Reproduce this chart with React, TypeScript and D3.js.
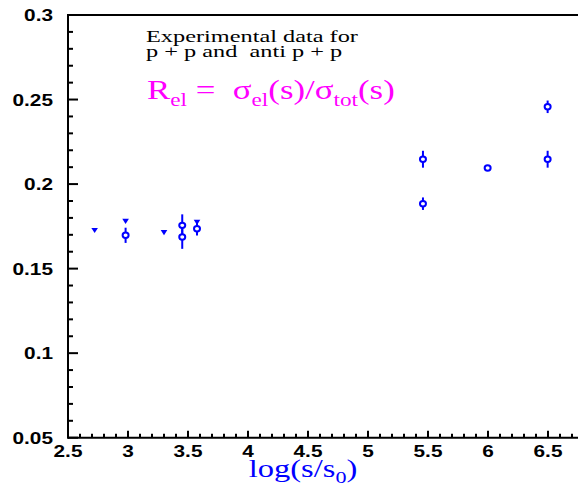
import React from "react";
import * as d3 from "d3";

const xTicks = [2.5, 3, 3.5, 4, 4.5, 5, 5.5, 6, 6.5];
const xTickLabels = ["2.5", "3", "3.5", "4", "4.5", "5", "5.5", "6", "6.5"];
const yTicks = [0.05, 0.1, 0.15, 0.2, 0.25, 0.3];
const yTickLabels = ["0.05", "0.1", "0.15", "0.2", "0.25", "0.3"];

// open circles with error bars
const circleX = [2.98, 3.452, 3.452, 3.575, 5.458, 5.458, 5.997, 6.497, 6.497];
const circleY = [0.1697, 0.1756, 0.1687, 0.1736, 0.2147, 0.1884, 0.2095, 0.2457, 0.2147];
const circleErr = [0.0045, 0.0065, 0.007, 0.004, 0.005, 0.0037, 0, 0.0037, 0.005];
// filled down triangles
const triX = [2.722, 2.98, 3.3, 3.575];
const triY = [0.1726, 0.178, 0.1713, 0.1774];

const W = 578;
const H = 490;
const BLUE = "#0000ff";
const SX = 1.3;

export default function App() {
  const x = d3.scaleLinear().domain([2.5, 6.5]).range([68, 548]);
  const y = d3.scaleLinear().domain([0.05, 0.3]).range([437.7, 15]);
  const xMax = x.invert(W + 2);

  const yMinor = d3.range(5, 31).map((v) => v / 100);
  const xMinor = d3.range(25, Math.floor(xMax * 10) + 1).map((v) => v / 10);

  const serif = "'Liberation Serif', 'Times New Roman', serif";
  const sans = "'Liberation Sans', Arial, sans-serif";

  return (
    <svg
      width={W}
      height={H}
      style={{ position: "absolute", left: 0, top: 0, background: "#fff" }}
    >
      <rect x={0} y={0} width={W} height={H} fill="#fff" />
      {/* frame lines */}
      <line x1={x(2.5)} x2={W} y1={y(0.3)} y2={y(0.3)} stroke="#000" strokeWidth={2} />
      <line x1={x(2.5)} x2={W} y1={y(0.05)} y2={y(0.05)} stroke="#000" strokeWidth={2} />
      <line x1={x(2.5)} x2={x(2.5)} y1={y(0.3) - 1} y2={y(0.05) + 1} stroke="#000" strokeWidth={2} />

      {/* y ticks */}
      {yMinor.map((v, i) => {
        const major = Math.round(v * 100) % 5 === 0;
        return (
          <line
            key={"ym" + i}
            x1={x(2.5)}
            x2={x(2.5) + (major ? 10 : 5)}
            y1={y(v)}
            y2={y(v)}
            stroke="#000"
            strokeWidth={2}
          />
        );
      })}
      {/* x ticks */}
      {xMinor.map((v, i) => {
        const major = Math.round(v * 10) % 5 === 0;
        return (
          <line
            key={"xm" + i}
            x1={x(v)}
            x2={x(v)}
            y1={y(0.05)}
            y2={y(0.05) - (major ? 7 : 4)}
            stroke="#000"
            strokeWidth={2}
          />
        );
      })}

      {/* y tick labels */}
      {yTicks.map((v, i) => (
        <g key={"yl" + i} transform={`translate(53,${y(v) + 6}) scale(${SX},1)`}>
          <text textAnchor="end" fontFamily={sans} fontWeight="bold" fontSize={16} fill="#000">
            {yTickLabels[i]}
          </text>
        </g>
      ))}
      {/* x tick labels */}
      {xTicks.map((v, i) => (
        <g key={"xl" + i} transform={`translate(${x(v)},457) scale(${SX},1)`}>
          <text textAnchor="middle" fontFamily={sans} fontWeight="bold" fontSize={16} fill="#000">
            {xTickLabels[i]}
          </text>
        </g>
      ))}

      {/* x axis title */}
      <g transform={`translate(303,477) scale(${SX},1)`}>
        <text textAnchor="middle" fontFamily={serif} fontSize={25} fill={BLUE}>
          log(s/s
          <tspan fontSize={17} dy={6}>0</tspan>
          <tspan dy={-6}>)</tspan>
        </text>
      </g>

      {/* annotation text */}
      <g transform={`translate(146,41.5) scale(1.39,1)`}>
        <text fontFamily={serif} fontSize={17.5} fill="#000">Experimental data for</text>
      </g>
      <g transform={`translate(146,57) scale(1.39,1)`}>
        <text fontFamily={serif} fontSize={17.5} fill="#000" style={{ whiteSpace: "pre" }}>
          {"p + p and  anti p + p"}
        </text>
      </g>
      <g transform={`translate(147,99) scale(1.29,1)`}>
        <text fontFamily={serif} fontSize={27} fill="#ff00ff" style={{ whiteSpace: "pre" }}>
          R<tspan fontSize={18} dy={7}>el</tspan>
          <tspan dy={-7}>{" =  "}</tspan>
          <tspan>σ</tspan>
          <tspan fontSize={18} dy={7}>el</tspan>
          <tspan dy={-7}>(s)/σ</tspan>
          <tspan fontSize={18} dy={7}>tot</tspan>
          <tspan dy={-7}>(s)</tspan>
        </text>
      </g>

      {/* error bars */}
      {circleX.map((cx, i) =>
        circleErr[i] > 0 ? (
          <line
            key={"e" + i}
            x1={x(cx)}
            x2={x(cx)}
            y1={y(circleY[i] - circleErr[i])}
            y2={y(circleY[i] + circleErr[i])}
            stroke={BLUE}
            strokeWidth={2}
          />
        ) : null
      )}
      {/* open circles */}
      {circleX.map((cx, i) => (
        <ellipse
          key={"c" + i}
          cx={x(cx)}
          cy={y(circleY[i])}
          rx={3}
          ry={2.7}
          fill="#fff"
          stroke={BLUE}
          strokeWidth={2}
        />
      ))}
      {/* down triangles */}
      {triX.map((tx, i) => {
        const px = x(tx);
        const py = y(triY[i]);
        return (
          <path
            key={"t" + i}
            d={`M${px - 3.3},${py - 2.5}L${px + 3.3},${py - 2.5}L${px},${py + 2.7}Z`}
            fill={BLUE}
          />
        );
      })}
    </svg>
  );
}
